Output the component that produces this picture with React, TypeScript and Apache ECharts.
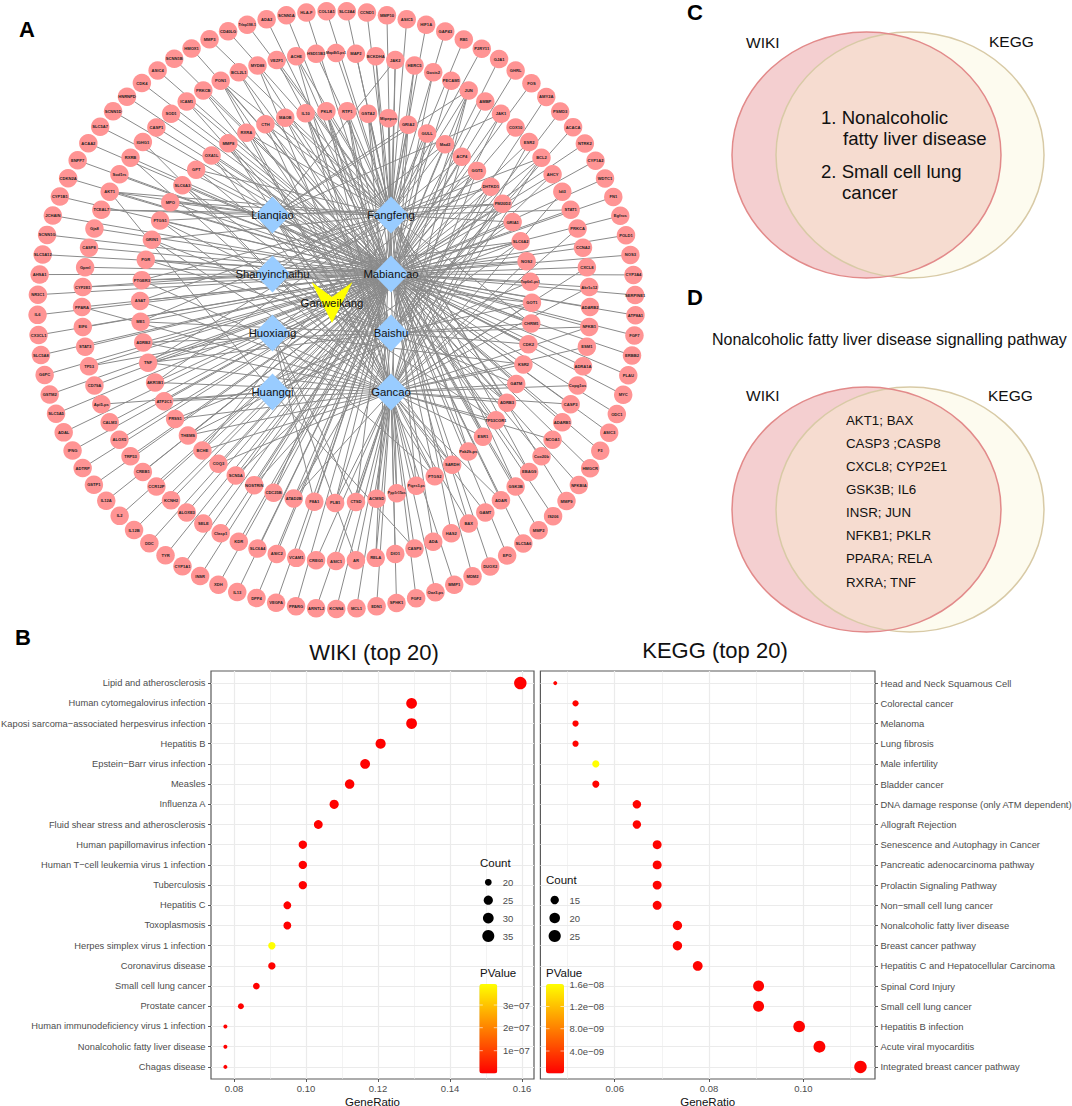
import React, { useEffect, useRef } from "react";
import * as echarts from "echarts";

const FONT = '"Liberation Sans", Arial, sans-serif';

// ---------- network ----------
const HERBS = ["Lianqiao", "Fangfeng", "Shanyinchaihu", "Mabiancao", "Huoxiang", "Baishu", "Huangqi", "Gancao"];
const HERB_CODES = ["L", "F", "S", "M", "H", "B", "Q", "G"];
const CENTER_DRUG = "Ganweikang";

const OUTER_NAMES = ["COL1A1","SLC2A4","CCND1","MMP10","ASIC5","HIF1A","GAP43","RB1","P2RY11","GJA1","GHRL","FOS","AMY2A","PSMD3","ACACA","NTRK2","CYP1A2","WDTC1","FN1","Egfros","POLD1","NOS3","CYP3A4","SERPINE1","ATP8A1","FGF7","ERBB2","PLAU","MYC","ODC1","ASIC3","F3","HMGCR","NFKBIA","MMP9","IS206","MMP2","SLC5A6","EPO","DUOX2","MDM2","MMP1","Oaz3-ps","FGF2","SPHK1","EDN1","MCL1","KCNN4","ARNTL2","PPARG","VEGFA","DPP4","IL13","XDH","INSR","CYP1A1","TYR","DDC","IL12B","IL2","IL12A","GSTP1","ADTRP","IFNG","ADAL","SLC5A5","GSTM2","G6PC","SLC5A8","CX3CL1","IL6","NR3C1","AHSA1","SLC5A12","SCNN1G","JCHAIN","CYP1B1","CDKN2A","ENPP7","ACAA2","SLC5A7","SCNN1D","HNRNPD","CDK4","ASIC4","SCNN1B","HMOX1","MMP3","CD40LG","Trlap198-1","ADA2","SCNN1A","HLA-F"];
const OUTER_HERBS = "F F F F F F F F F M M M B B B M M M M M M M M M M M M M M M M M M M F M M M M M M G G G G G G G G M M M M M M M M M M M M M M M M M M M M M M M M M M M M M M M M M M M M M M F F F M M M M F".split(" ");

const MIDDLE_NAMES = ["HSD11B3","Map4k5-ps1","MAP2","BCKDHA","JAK2","HERC5","Gosts2","PECAM1","JUN","AMBP","JAK1","COX10","ESR2","BCL2","AHCY","Idi3","STAT1","PRKCA","CCNA2","CXCL8","Akr1c12","ADARB2","NFKB1","ESM1","ADRA1A","Copg1os","CASP3","ADARB1","NCOA1","Cox20b","EBAG9","GSK3B","ADAR","GAMT","BAX","HAS2","ADA","CASP9","DIO1","RELA","AR","ASIC1","CREG1","VCAM1","ASIC2","SLC6A4","KDR","Clasp1","SELE","ALOXE3","KCNH2","CCR12P","CREB1","TRP53","ALOX5","CALM3","Api5-ps","CD79A","TP53","STAT3","EIF6","PPARA","CYP2E1","Gpml","CASP8","Gja8","TCEAL7","AKT1","Sod1rs","RXRB","IGHG1","CASP1","SOD1","ICAM1","PRKCB","PON1","BCL2L1","MYD88","VEZF1","ACHE"];
const MIDDLE_HERBS = "F F F FM LFM FM M M LFMGB M LMB M MG FMGB MB G FM G M MG MG M MBG G M G MG M G M MF MF MG G GM F M QG G GF GH G G M M M M M M M M M M M M M Q M MH M M MG MS M M M LF LFMQ M MG G M M MB MB FMBG MB MG MF MFG".split(" ");

const INNER_NAMES = ["PKLR","RTP1","GSTA2","Mipepos","GRIA2","GULL","Mad2","ACP4","GGT5","DHTKD1","PM20D2","GRIA1","SLC6A2","NOS2","Top6a1-ps1","GOT1","CHRM1","CDK2","KSR2","GATM","ADRB3","TP53COR1","ESR1","Pak2k-ps","SARDH","PTGS2","Ptges3-ps","Ppp1r15os","ACMSD","CTSD","PLB1","F8A1","ATAD2B","CDC25B","NOSTRIN","SCN5A","COQ3","BCHE","THEMS","PRSS1","ATP2C1","AKR1B1","TNF","ADRB2","ME1","ASAT","PTGER3","PGR","GRIN1","PTGS1","MPO","SLC6A3","GPT","OXA1L","MMP8","RXRA","CTH","MAOB","IL10"];
const INNER_HERBS = "FMBG FMGB FMG FM LFG FMB SMF FMG FMGH SFMGB LFMGB MQF MBSH SMG MQ MGSB MBLF MBL GHM MGB MGLF GSM MGF MF GL MGLH GF GM GB GHF GMB MH GMB MF MB MB MG MFG MGB GB GQM MGF MGBFH MBG MBF MGF SMFG MSB GBF LMGB LMF MGB MFB GBM MBG MFG FMG FMB MGB".split(" ");

// ---------- dot plots ----------
const WIKI_TERMS = ["Lipid and atherosclerosis","Human cytomegalovirus infection","Kaposi sarcoma−associated herpesvirus infection","Hepatitis B","Epstein−Barr virus infection","Measles","Influenza A","Fluid shear stress and atherosclerosis","Human papillomavirus infection","Human T−cell leukemia virus 1 infection","Tuberculosis","Hepatitis C","Toxoplasmosis","Herpes simplex virus 1 infection","Coronavirus disease","Small cell lung cancer","Prostate cancer","Human immunodeficiency virus 1 infection","Nonalcoholic fatty liver disease","Chagas disease"];
const WIKI_RATIO = [0.1595,0.1293,0.1293,0.1207,0.1164,0.1121,0.1078,0.1034,0.0991,0.0991,0.0991,0.0948,0.0948,0.0905,0.0905,0.0862,0.0819,0.0776,0.0776,0.0776];
const WIKI_COUNT = [37,30,30,28,27,26,25,24,23,23,23,22,22,21,21,20,19,18,18,18];
const WIKI_P = [3e-9,3e-9,3e-9,3e-9,3e-9,3e-9,3e-9,3e-9,3e-9,3e-9,3e-9,3e-9,3e-9,3.89e-7,3e-9,3e-9,3e-9,3e-9,3e-9,3e-9];
const WIKI_X_TICKS = [0.08,0.1,0.12,0.14,0.16];
const WIKI_X_MINOR = [0.09,0.11,0.13,0.15];
const WIKI_COUNT_LEGEND = [20,25,30,35];
const WIKI_P_LEGEND = ["3e−07","2e−07","1e−07"];

const KEGG_TERMS = ["Head and Neck Squamous Cell","Colorectal cancer","Melanoma","Lung fibrosis","Male infertility","Bladder cancer","DNA damage response (only ATM dependent)","Allograft Rejection","Senescence and Autophagy in Cancer","Pancreatic adenocarcinoma pathway","Prolactin Signaling Pathway","Non−small cell lung cancer","Nonalcoholic fatty liver disease","Breast cancer pathway","Hepatitis C and Hepatocellular Carcinoma","Spinal Cord Injury","Small cell lung cancer","Hepatitis B infection","Acute viral myocarditis","Integrated breast cancer pathway"];
const KEGG_RATIO = [0.0474,0.0517,0.0517,0.0517,0.056,0.056,0.0647,0.0647,0.069,0.069,0.069,0.069,0.0733,0.0733,0.0776,0.0905,0.0905,0.0991,0.1034,0.1121];
const KEGG_COUNT = [11,12,12,12,13,13,15,15,16,16,16,16,17,17,18,21,21,23,24,26];
const KEGG_P = [3e-10,3e-10,3e-10,3e-10,1.6e-8,3e-10,3e-10,3e-10,3e-10,3e-10,3e-10,3e-10,3e-10,3e-10,3e-10,3e-10,3e-10,3e-10,3e-10,3e-10];
const KEGG_X_TICKS = [0.06,0.08,0.1];
const KEGG_X_MINOR = [0.05,0.07,0.09,0.11];
const KEGG_COUNT_LEGEND = [15,20,25];
const KEGG_P_LEGEND = ["1.6e−08","1.2e−08","8.0e−09","4.0e−09"];

// ---------- venn ----------
const VENN_C_LINES = ["1. Nonalcoholic", "fatty liver disease", "2. Small cell lung", "cancer"];
const VENN_D_TITLE = "Nonalcoholic fatty liver disease signalling pathway";
const VENN_D_LINES = ["AKT1; BAX","CASP3 ;CASP8","CXCL8; CYP2E1","GSK3B; IL6","INSR; JUN","NFKB1; PKLR","PPARA; RELA","RXRA; TNF"];

// ---------- layout & style ----------
const W = 1072, H = 1106;
const HERB_COL = [272.5, 391];
const HERB_ROW = [215, 274, 333, 392];
const TEXT_GRAY = "#4d4d4d";
const GRID_LINE = "#ebebeb";
const TOP_Z = 50;

function buildNetwork() {
  const nodes: any[] = [];
  const links: any[] = [];
  HERBS.forEach((name, i) => {
    nodes.push({
      name,
      value: [HERB_COL[i % 2], HERB_ROW[Math.floor(i / 2)]],
      symbol: "diamond",
      symbolSize: [36, 37],
      itemStyle: { color: "#99ccff" },
      label: { show: true, position: "inside", fontSize: 11.3, color: "#111", fontFamily: FONT },
    });
  });
  nodes.push({
    name: CENTER_DRUG,
    value: [332, 302.5],
    symbol: "path://M0,0 L20.5,15 L41,0 L20.5,41 Z",
    symbolSize: [41, 41],
    symbolKeepAspect: false,
    itemStyle: { color: "#ffff00" },
    label: { show: true, position: "inside", fontSize: 11.3, color: "#111", fontFamily: FONT },
  });
  const addRing = (names: string[], herbs: string[], cx: number, cy: number, r: number, startDeg: number) => {
    names.forEach((name, i) => {
      const a = ((startDeg + (i * 360) / names.length) * Math.PI) / 180;
      nodes.push({
        name,
        value: [cx + r * Math.sin(a), cy - r * Math.cos(a)],
        symbol: "circle",
        symbolSize: 18.5,
        itemStyle: { color: "#ff9494" },
        label: { show: true, position: "inside", fontSize: name.length > 8 ? 3.5 : 4.1, fontWeight: "bold", color: "#222", fontFamily: FONT },
      });
      for (const code of herbs[i] || "") {
        const h = HERB_CODES.indexOf(code);
        if (h >= 0) links.push({ source: name, target: HERBS[h] });
      }
    });
  };
  addRing(OUTER_NAMES, OUTER_HERBS, 336.5, 310, 299, -1.9);
  addRing(MIDDLE_NAMES, MIDDLE_HERBS, 336, 307, 254, -4.5);
  addRing(INNER_NAMES, INNER_HERBS, 336, 307, 196, -2.8);
  return { nodes, links };
}

const dotSize = (c: number, lo: number, hi: number) => 4 + 8.5 * Math.sqrt(Math.max(0, c - lo) / (hi - lo));

function txt(x: number, y: number, text: string, fontSize: number, extra: any = {}) {
  return {
    type: "text",
    x,
    y,
    z: TOP_Z,
    silent: true,
    style: { text, fontSize, fontFamily: FONT, fill: "#111", verticalAlign: "middle", align: "left", ...extra },
  };
}

function venn(cy: number, ry: number) {
  return [
    { type: "ellipse", z: TOP_Z, shape: { cx: 866.5, cy, rx: 134.5, ry }, style: { fill: "#f4cfd0", stroke: "none" } },
    { type: "ellipse", z: TOP_Z, shape: { cx: 910, cy, rx: 134, ry }, style: { fill: "rgba(249,244,209,0.35)", stroke: "#d8caa6", lineWidth: 1.5 } },
    { type: "ellipse", z: TOP_Z, shape: { cx: 866.5, cy, rx: 134.5, ry }, style: { fill: "none", stroke: "#e28a8a", lineWidth: 1.5 } },
  ];
}

function colorbarTicks(x: number, w: number, ys: number[]) {
  const out: any[] = [];
  ys.forEach((y) => {
    out.push({ type: "line", z: TOP_Z, shape: { x1: x, y1: y, x2: x + 3.5, y2: y }, style: { stroke: "#fff", lineWidth: 0.6 } });
    out.push({ type: "line", z: TOP_Z, shape: { x1: x + w - 3.5, y1: y, x2: x + w, y2: y }, style: { stroke: "#fff", lineWidth: 0.6 } });
  });
  return out;
}

function buildGraphics() {
  const g: any[] = [];
  const bold = { fontWeight: "bold", fill: "#000" };
  g.push(txt(19, 29, "A", 22, bold), txt(15, 637, "B", 22, bold), txt(687, 12, "C", 22, bold), txt(687, 297, "D", 22, bold));
  // venn C
  g.push(...venn(155, 123));
  g.push(txt(746, 42, "WIKI", 15.5), txt(989, 41, "KEGG", 15.5));
  const cx = [821, 843, 821, 842];
  const cy = [117.5, 138, 171.5, 192];
  VENN_C_LINES.forEach((s, i) => g.push(txt(cx[i], cy[i], s, 18.6)));
  // venn D
  g.push(txt(712, 339, VENN_D_TITLE, 16));
  g.push(...venn(509.5, 122.5));
  g.push(txt(746, 395.5, "WIKI", 15.5), txt(988, 395, "KEGG", 15.5));
  VENN_D_LINES.forEach((s, i) => g.push(txt(846, 420 + i * 23.15, s, 13.3)));
  // plot titles
  g.push(txt(374, 652, "WIKI (top 20)", 22, { align: "center" }), txt(715, 650, "KEGG (top 20)", 22, { align: "center" }));
  // wiki legends
  g.push(txt(480, 862.7, "Count", 11.5));
  WIKI_COUNT_LEGEND.forEach((c, i) => {
    const y = 882.3 + i * 17.9;
    g.push({ type: "circle", z: TOP_Z, shape: { cx: 488.3, cy: y, r: dotSize(c, 18, 37) / 2 }, style: { fill: "#000" } });
    g.push(txt(502.8, y, String(c), 9.5, { fill: TEXT_GRAY }));
  });
  g.push(txt(480, 973.3, "PValue", 11.5));
  const wy = [1005, 1027.7, 1050.7];
  WIKI_P_LEGEND.forEach((s, i) => g.push(txt(503, wy[i], s, 9.5, { fill: TEXT_GRAY })));
  g.push(...colorbarTicks(479.3, 18, wy));
  // kegg legends
  g.push(txt(546, 880, "Count", 11.5));
  KEGG_COUNT_LEGEND.forEach((c, i) => {
    const y = 900 + i * 18;
    g.push({ type: "circle", z: TOP_Z, shape: { cx: 554.7, cy: y, r: dotSize(c, 11, 26) / 2 }, style: { fill: "#000" } });
    g.push(txt(569.5, y, String(c), 9.5, { fill: TEXT_GRAY }));
  });
  g.push(txt(546, 973.3, "PValue", 11.5));
  const ky = [984.5, 1006.5, 1028.7, 1051];
  KEGG_P_LEGEND.forEach((s, i) => g.push(txt(569.5, ky[i], s, 9.5, { fill: TEXT_GRAY })));
  g.push(...colorbarTicks(546, 18, ky.slice(1)));
  return g;
}

function dotAxes(opts: { grid: number; min: number; max: number; ticks: number[]; minor: number[]; terms: string[]; side: "left" | "right"; labelSize: number }) {
  const rows = opts.terms.map((_, i) => i);
  const xMajor = {
    type: "value",
    gridIndex: opts.grid,
    min: opts.min,
    max: opts.max,
    position: "bottom",
    name: "GeneRatio",
    nameLocation: "middle",
    nameGap: 16.5,
    nameTextStyle: { fontSize: 11.5, color: "#111", fontFamily: FONT },
    axisLine: { show: false, onZero: false },
    axisTick: { show: true, length: 3, customValues: opts.ticks, lineStyle: { color: "#333", width: 0.8 } },
    axisLabel: { customValues: opts.ticks, fontSize: 9.5, color: TEXT_GRAY, fontFamily: FONT, margin: 4, formatter: (v: number) => v.toFixed(2) },
    splitLine: { show: true, lineStyle: { color: GRID_LINE, width: 1.2 } },
  };
  const xMinor = {
    type: "value",
    gridIndex: opts.grid,
    min: opts.min,
    max: opts.max,
    position: "top",
    axisLine: { show: false, onZero: false },
    axisTick: { show: false, customValues: opts.minor },
    axisLabel: { show: false },
    splitLine: { show: true, lineStyle: { color: GRID_LINE, width: 0.6 } },
  };
  const y = {
    type: "value",
    gridIndex: opts.grid,
    inverse: true,
    min: -0.6,
    max: 19.6,
    position: opts.side,
    axisLine: { show: false, onZero: false },
    axisTick: { show: true, length: 3, customValues: rows, lineStyle: { color: "#333", width: 0.8 } },
    axisLabel: { customValues: rows, fontSize: opts.labelSize, color: TEXT_GRAY, fontFamily: FONT, margin: 5.5, formatter: (v: number) => opts.terms[Math.round(v)] },
    splitLine: { show: true, lineStyle: { color: GRID_LINE, width: 1.2 } },
  };
  return { xMajor, xMinor, y };
}

function buildOption() {
  const { nodes, links } = buildNetwork();
  const wiki = dotAxes({ grid: 1, min: 0.0736, max: 0.1633, ticks: WIKI_X_TICKS, minor: WIKI_X_MINOR, terms: WIKI_TERMS, side: "left", labelSize: 9.3 });
  const kegg = dotAxes({ grid: 2, min: 0.04425, max: 0.11518, ticks: KEGG_X_TICKS, minor: KEGG_X_MINOR, terms: KEGG_TERMS, side: "right", labelSize: 9.4 });
  const dotGrid = { show: true, borderColor: "#5a5a5a", borderWidth: 1.2, backgroundColor: "transparent", containLabel: false, outerBoundsMode: "none" };
  return {
    animation: false,
    backgroundColor: "#fff",
    grid: [
      { left: 0, top: 0, width: W, height: H, show: false, outerBoundsMode: "none" },
      { ...dotGrid, left: 211, top: 671, width: 323, height: 408 },
      { ...dotGrid, left: 540.4, top: 671, width: 334.6, height: 408 },
    ],
    xAxis: [
      { type: "value", gridIndex: 0, min: 0, max: W, show: false },
      wiki.xMajor, wiki.xMinor, kegg.xMajor, kegg.xMinor,
    ],
    yAxis: [
      { type: "value", gridIndex: 0, min: 0, max: H, inverse: true, show: false },
      wiki.y, kegg.y,
    ],
    visualMap: [
      { type: "continuous", seriesIndex: 1, dimension: 2, min: 2e-9, max: 3.89e-7, inRange: { color: ["#ff0000", "#ffff00"] }, itemWidth: 18, itemHeight: 89.5, left: 479.3, top: 984, calculable: false, text: null, padding: 0, hoverLink: false, formatter: () => "" },
      { type: "continuous", seriesIndex: 2, dimension: 2, min: 1.4e-10, max: 1.6e-8, inRange: { color: ["#ff0000", "#ffff00"] }, itemWidth: 18, itemHeight: 89.5, left: 546, top: 984, calculable: false, text: null, padding: 0, hoverLink: false, formatter: () => "" },
    ],
    series: [
      {
        type: "graph",
        coordinateSystem: "cartesian2d",
        xAxisIndex: 0,
        yAxisIndex: 0,
        layout: "none",
        silent: true,
        data: nodes,
        links,
        lineStyle: { color: "#8a8a8a", width: 1, opacity: 1, curveness: 0 },
        emphasis: { disabled: true },
      },
      {
        type: "scatter",
        xAxisIndex: 1,
        yAxisIndex: 1,
        silent: true,
        data: WIKI_RATIO.map((r, i) => [r, i, WIKI_P[i], WIKI_COUNT[i]]),
        encode: { x: 0, y: 1 },
        symbolSize: (v: number[]) => dotSize(v[3], 18, 37),
        itemStyle: { opacity: 1 },
        z: 5,
      },
      {
        type: "scatter",
        xAxisIndex: 3,
        yAxisIndex: 2,
        silent: true,
        data: KEGG_RATIO.map((r, i) => [r, i, KEGG_P[i], KEGG_COUNT[i]]),
        encode: { x: 0, y: 1 },
        symbolSize: (v: number[]) => dotSize(v[3], 11, 26),
        itemStyle: { opacity: 1 },
        z: 5,
      },
    ],
    graphic: { elements: buildGraphics() },
  };
}

export default function App() {
  const ref = useRef<HTMLDivElement>(null);
  useEffect(() => {
    if (!ref.current) return;
    const chart = echarts.init(ref.current, undefined, { renderer: "svg" });
    chart.setOption(buildOption() as any);
    return () => chart.dispose();
  }, []);
  return <div ref={ref} style={{ position: "absolute", left: 0, top: 0, width: W, height: H }} />;
}
